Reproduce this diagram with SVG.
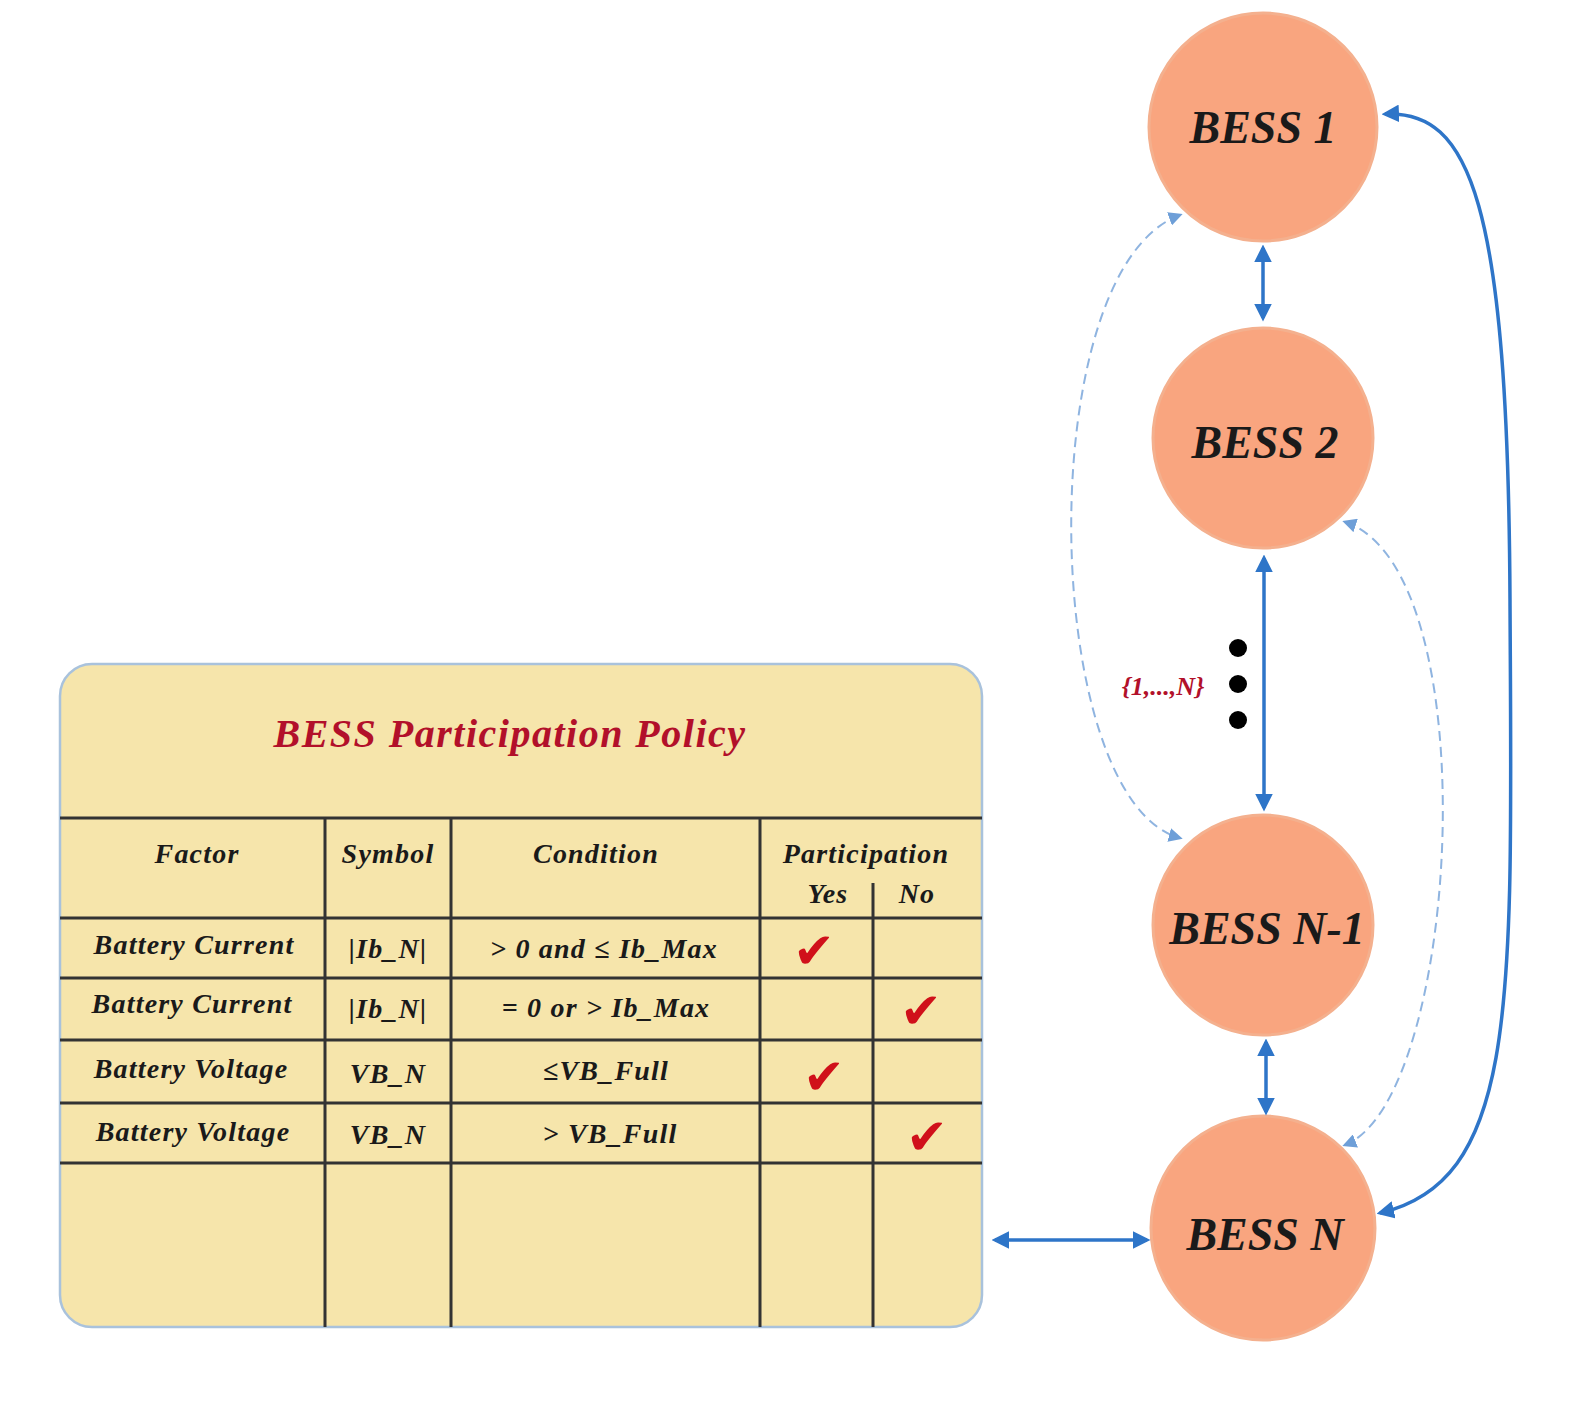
<svg xmlns="http://www.w3.org/2000/svg" width="1579" height="1404" viewBox="0 0 1579 1404">
<style>
.t{font-family:"Liberation Serif",serif;font-style:italic;font-weight:bold;fill:#1a1a1a;text-anchor:middle}
.c{font-size:28px;letter-spacing:1.2px}
.node{fill:#f9a57f;stroke:#f4b08e;stroke-width:3}
.nl{font-size:46px}
.g{stroke:#333;stroke-width:3;fill:none}
.ck{font-family:"DejaVu Sans",sans-serif;fill:#d0101a;font-size:50px;text-anchor:middle}
.s{stroke:#2e75c8;stroke-width:3.5;fill:none}
.d{stroke:#8fb4e0;stroke-width:2;fill:none;stroke-dasharray:10 6}
</style>
<defs>
<marker id="a" viewBox="0 0 10 10" refX="8" refY="5" markerWidth="5" markerHeight="5" orient="auto-start-reverse"><path d="M0,0L10,5L0,10z" fill="#2e75c8"/></marker>
<marker id="b" viewBox="0 0 10 10" refX="8" refY="5" markerWidth="7" markerHeight="7" orient="auto-start-reverse"><path d="M0,0L10,5L0,10z" fill="#6e9fd8"/></marker>
</defs>
<rect width="1579" height="1404" fill="#fff"/>
<g id="table">
<rect x="60" y="664" width="922" height="663" rx="32" fill="#f6e5ab" stroke="#a9c2dc" stroke-width="2.5"/>
<text x="510" y="747" class="t" font-size="40" letter-spacing="1.5" style="fill:#b2102a">BESS Participation Policy</text>
<path class="g" d="M60,818H982M60,918H982M60,978H982M60,1040H982M60,1103H982M60,1163H982M325,818V1327M451,818V1327M760,818V1327M873,883V1327"/>
<text class="t c" x="197" y="863">Factor</text>
<text class="t c" x="388" y="863">Symbol</text>
<text class="t c" x="596" y="863">Condition</text>
<text class="t c" x="866" y="863">Participation</text>
<text class="t c" x="828" y="903">Yes</text>
<text class="t c" x="917" y="903">No</text>
<text class="t c" x="194" y="954">Battery Current</text>
<text class="t c" x="388" y="958">|Ib_N|</text>
<text class="t c" x="604" y="958">&gt; 0 and ≤ Ib_Max</text>
<text class="t c" x="192" y="1013">Battery Current</text>
<text class="t c" x="388" y="1018">|Ib_N|</text>
<text class="t c" x="606" y="1017">= 0 or &gt; Ib_Max</text>
<text class="t c" x="191" y="1078">Battery Voltage</text>
<text class="t c" x="388" y="1083">VB_N</text>
<text class="t c" x="606" y="1080">≤VB_Full</text>
<text class="t c" x="193" y="1141">Battery Voltage</text>
<text class="t c" x="388" y="1144">VB_N</text>
<text class="t c" x="610" y="1143">&gt; VB_Full</text>
<text class="ck" x="814" y="968">✔</text>
<text class="ck" x="921" y="1028">✔</text>
<text class="ck" x="824" y="1094">✔</text>
<text class="ck" x="927" y="1154">✔</text>
</g>
<g id="bess1"><circle class="node" cx="1263" cy="127" r="114"/><text class="t nl" x="1263" y="143">BESS 1</text></g>
<g id="bess2"><circle class="node" cx="1263" cy="438" r="110"/><text class="t nl" x="1265" y="458">BESS 2</text></g>
<g id="bessn1"><circle class="node" cx="1263" cy="925" r="110"/><text class="t nl" x="1267" y="944">BESS N-1</text></g>
<g id="bessn"><circle class="node" cx="1263" cy="1228" r="112"/><text class="t nl" x="1265" y="1250">BESS N</text></g>
<g id="connectors">
<path class="s" d="M1263,248V318" marker-start="url(#a)" marker-end="url(#a)"/>
<path class="s" d="M1264,558V808" marker-start="url(#a)" marker-end="url(#a)"/>
<path class="s" d="M1266,1042V1112" marker-start="url(#a)" marker-end="url(#a)"/>
<path class="s" stroke-width="2.5" d="M995,1240H1147" marker-start="url(#a)" marker-end="url(#a)"/>
<path class="s" stroke-width="3" d="M1385,114C1470,110 1508,200 1510,600C1512,1000 1520,1180 1380,1213" marker-start="url(#a)" marker-end="url(#a)"/>
<path class="d" d="M1180,215C1030,270 1040,800 1180,838" marker-start="url(#b)" marker-end="url(#b)"/>
<path class="d" d="M1345,522C1490,570 1460,1100 1345,1145" marker-start="url(#b)" marker-end="url(#b)"/>
<circle cx="1238" cy="648" r="9" fill="#000"/><circle cx="1238" cy="684" r="9" fill="#000"/><circle cx="1238" cy="720" r="9" fill="#000"/>
<text class="t" x="1163" y="695" font-size="26" style="fill:#b2102a">{1,...,N}</text>
</g>
</svg>
